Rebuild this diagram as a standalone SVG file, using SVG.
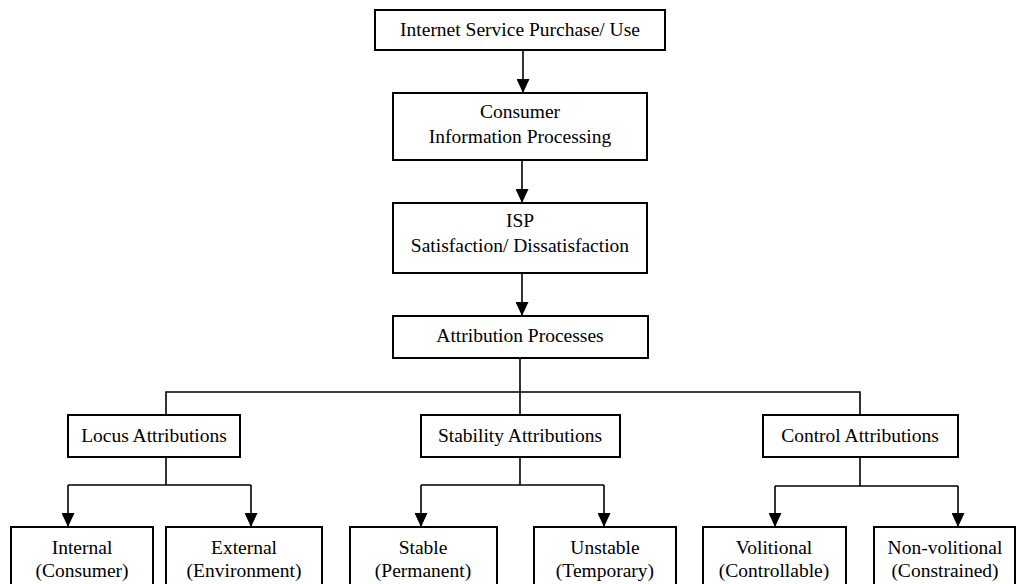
<svg xmlns="http://www.w3.org/2000/svg" width="1016" height="584" viewBox="0 0 1016 584">
<defs>
<style>
.box{fill:#fff;stroke:#000;stroke-width:2}
.t{font-family:'Liberation Serif','Tinos','DejaVu Serif',serif;font-size:19.5px;fill:#000;text-anchor:middle}
.c{fill:none;stroke:#000;stroke-width:1.6}
</style>
<marker id="ah" viewBox="0 0 14 13" refX="14" refY="6.5" markerWidth="14" markerHeight="13" markerUnits="userSpaceOnUse" orient="auto">
<path d="M0,0 L14,6.5 L0,13 z" fill="#000"/>
</marker>
</defs>
<rect width="1016" height="584" fill="#fff"/>
<g id="connectors">
<line class="c" x1="523" y1="50" x2="523" y2="93" marker-end="url(#ah)"/>
<line class="c" x1="522" y1="160" x2="522" y2="203" marker-end="url(#ah)"/>
<line class="c" x1="522" y1="273" x2="522" y2="316" marker-end="url(#ah)"/>
<polyline class="c" points="520,358 520,415"/>
<polyline class="c" points="166,415 166,392 860,392 860,415"/>
<polyline class="c" points="166,457 166,485"/>
<polyline class="c" points="68,485 251,485"/>
<line class="c" x1="68" y1="485" x2="68" y2="527" marker-end="url(#ah)"/>
<line class="c" x1="251" y1="485" x2="251" y2="527" marker-end="url(#ah)"/>
<polyline class="c" points="520,457 520,485"/>
<polyline class="c" points="421,485 604,485"/>
<line class="c" x1="421" y1="485" x2="421" y2="527" marker-end="url(#ah)"/>
<line class="c" x1="604" y1="485" x2="604" y2="527" marker-end="url(#ah)"/>
<polyline class="c" points="860,457 860,486"/>
<polyline class="c" points="775,486 958,486"/>
<line class="c" x1="775" y1="486" x2="775" y2="527" marker-end="url(#ah)"/>
<line class="c" x1="958" y1="486" x2="958" y2="527" marker-end="url(#ah)"/>
</g>
<g id="n-internet">
<rect class="box" x="375" y="10" width="290" height="40"/>
<text class="t" x="520" y="36">Internet Service Purchase/ Use</text>
</g>
<g id="n-consumer">
<rect class="box" x="393" y="93" width="254" height="67"/>
<text class="t" x="520" y="118">Consumer</text>
<text class="t" x="520" y="143">Information Processing</text>
</g>
<g id="n-isp">
<rect class="box" x="393" y="203" width="254" height="70"/>
<text class="t" x="520" y="227">ISP</text>
<text class="t" x="520" y="252">Satisfaction/ Dissatisfaction</text>
</g>
<g id="n-attribution">
<rect class="box" x="393" y="316" width="255" height="42"/>
<text class="t" x="520" y="342">Attribution Processes</text>
</g>
<g id="n-locus">
<rect class="box" x="68" y="415" width="172" height="42"/>
<text class="t" x="154" y="442">Locus Attributions</text>
</g>
<g id="n-stability">
<rect class="box" x="421" y="415" width="199" height="42"/>
<text class="t" x="520" y="442">Stability Attributions</text>
</g>
<g id="n-control">
<rect class="box" x="763" y="415" width="195" height="42"/>
<text class="t" x="860" y="442">Control Attributions</text>
</g>
<g id="n-internal">
<rect class="box" x="11" y="527" width="142" height="70"/>
<text class="t" x="82" y="554">Internal</text>
<text class="t" x="82" y="577">(Consumer)</text>
</g>
<g id="n-external">
<rect class="box" x="166" y="527" width="156" height="70"/>
<text class="t" x="244" y="554">External</text>
<text class="t" x="244" y="577">(Environment)</text>
</g>
<g id="n-stable">
<rect class="box" x="350" y="527" width="147" height="70"/>
<text class="t" x="423" y="554">Stable</text>
<text class="t" x="423" y="577">(Permanent)</text>
</g>
<g id="n-unstable">
<rect class="box" x="534" y="527" width="142" height="70"/>
<text class="t" x="605" y="554">Unstable</text>
<text class="t" x="605" y="577">(Temporary)</text>
</g>
<g id="n-volitional">
<rect class="box" x="703" y="527" width="143" height="70"/>
<text class="t" x="774" y="554">Volitional</text>
<text class="t" x="774" y="577">(Controllable)</text>
</g>
<g id="n-nonvolitional">
<rect class="box" x="874" y="527" width="141" height="70"/>
<text class="t" x="945" y="554">Non-volitional</text>
<text class="t" x="945" y="577">(Constrained)</text>
</g>
</svg>
